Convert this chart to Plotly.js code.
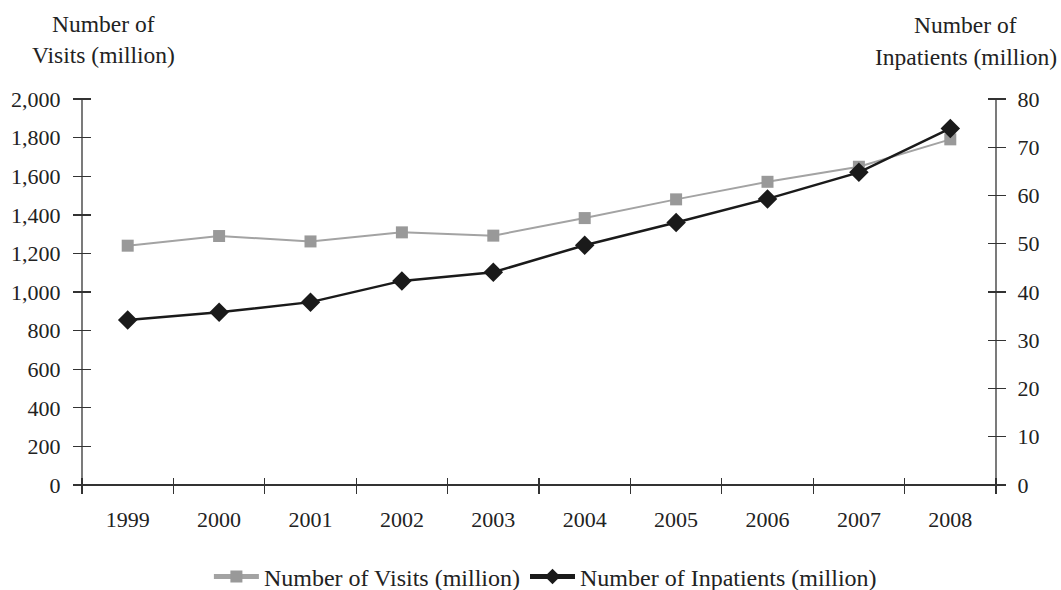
<!DOCTYPE html>
<html>
<head>
<meta charset="utf-8">
<script src="https://cdn.plot.ly/plotly-3.0.1.min.js"></script>
<style>html,body{margin:0;padding:0;background:#fff;}#chart{width:1061px;height:590px;}</style>
</head>
<body>
<div id="chart"></div>
<script>
const years = [1999, 2000, 2001, 2002, 2003, 2004, 2005, 2006, 2007, 2008];
const visits = [1240, 1290, 1262, 1309, 1292, 1383, 1480, 1571, 1649, 1791];
const inpatients = [34.2, 35.8, 37.9, 42.3, 44.1, 49.7, 54.4, 59.3, 64.8, 73.9];
const visitsName = "Number of Visits (million)";
const inpatientsName = "Number of Inpatients (million)";
const leftTitle = ["Number of", "Visits (million)"];
const rightTitle = ["Number of", "Inpatients (million)"];
const leftRange = [0, 2000], leftStep = 200;
const rightRange = [0, 80], rightStep = 10;

const family = "Liberation Serif, Times New Roman, serif";
const font = {family: family, size: 22, color: "#222"};
const titleFont = {family: family, size: 23.5, color: "#222"};
const legendFont = {family: family, size: 24, color: "#222"};
const axisColor = "#333";
const tickW = 1.4;

const W = 1061, H = 590;
const margin = {l: 82, r: 65, t: 99, b: 105};
const plotW = W - margin.l - margin.r, plotH = H - margin.t - margin.b;
const xRange = [years[0] - 0.5, years[years.length - 1] + 0.5];
const halfX = 8, halfY = 9;  // half-length of the crossing tick marks, px

const traces = [
  {x: years, y: visits, name: visitsName, type: "scatter", mode: "lines+markers",
   xaxis: "x", yaxis: "y",
   line: {color: "#a3a3a3", width: 2}, marker: {symbol: "square", size: 12, color: "#999999"}},
  {x: years, y: inpatients, name: inpatientsName, type: "scatter", mode: "lines+markers",
   xaxis: "x", yaxis: "y2",
   line: {color: "#1a1a1a", width: 2.5}, marker: {symbol: "diamond", size: 15, color: "#1a1a1a"}}
];

// vertical axis lines (the tick-bearing axes are shifted inward so their ticks cross these lines)
const axisLine = {color: axisColor, width: 1.3};
const shapes = [
  {type: "line", xref: "paper", x0: 0, x1: 0, yref: "paper", y0: 0, y1: 1, line: axisLine},
  {type: "line", xref: "paper", x0: 1, x1: 1, yref: "paper", y0: 0, y1: 1, line: axisLine}
];

const layout = {
  width: W, height: H,
  margin: Object.assign({autoexpand: false}, margin),
  paper_bgcolor: "#fff", plot_bgcolor: "#fff",
  font: font,
  showlegend: true,
  legend: {orientation: "h", x: 0.507, xanchor: "center", y: -0.238, yanchor: "middle",
           font: legendFont, traceorder: "normal", itemsizing: "constant", itemwidth: 45},
  xaxis: {type: "linear", range: xRange, anchor: "free", position: halfX / plotH,
          tickmode: "array", tickvals: years, ticktext: years.map(String),
          ticks: "outside", ticklen: 2 * halfX, tickcolor: "rgba(0,0,0,0)",
          minor: {tickmode: "linear", tick0: xRange[0], dtick: 1, ticks: "outside",
                  ticklen: 2 * halfX, tickwidth: tickW, tickcolor: axisColor, showgrid: false},
          showline: false, showgrid: false, zeroline: false, ticklabelstandoff: 7, tickfont: font},
  yaxis: {range: leftRange, dtick: leftStep, tickformat: ",d", anchor: "free",
          position: halfY / plotW, ticks: "outside", ticklen: 2 * halfY,
          tickwidth: tickW, tickcolor: axisColor, showline: false, showgrid: false,
          zeroline: true, zerolinecolor: axisColor, zerolinewidth: 1.3,
          ticklabelstandoff: 8, tickfont: font},
  yaxis2: {range: rightRange, dtick: rightStep, overlaying: "y", side: "right", anchor: "free",
           position: 1 - halfY / plotW, ticks: "outside", ticklen: 2 * halfY,
           tickwidth: tickW, tickcolor: axisColor, showline: false, showgrid: false,
           zeroline: false, ticklabelstandoff: 7, tickfont: font},
  shapes: shapes,
  annotations: [
    {text: leftTitle[0], xref: "paper", yref: "paper", x: 0.023, y: 1.194,
     xanchor: "center", yanchor: "middle", showarrow: false, font: titleFont},
    {text: leftTitle[1], xref: "paper", yref: "paper", x: 0.023, y: 1.114,
     xanchor: "center", yanchor: "middle", showarrow: false, font: titleFont},
    {text: rightTitle[0], xref: "paper", yref: "paper", x: 0.967, y: 1.192,
     xanchor: "center", yanchor: "middle", showarrow: false, font: titleFont},
    {text: rightTitle[1], xref: "paper", yref: "paper", x: 0.967, y: 1.109,
     xanchor: "center", yanchor: "middle", showarrow: false, font: titleFont}
  ]
};

Plotly.newPlot("chart", traces, layout, {staticPlot: true});
</script>
</body>
</html>
